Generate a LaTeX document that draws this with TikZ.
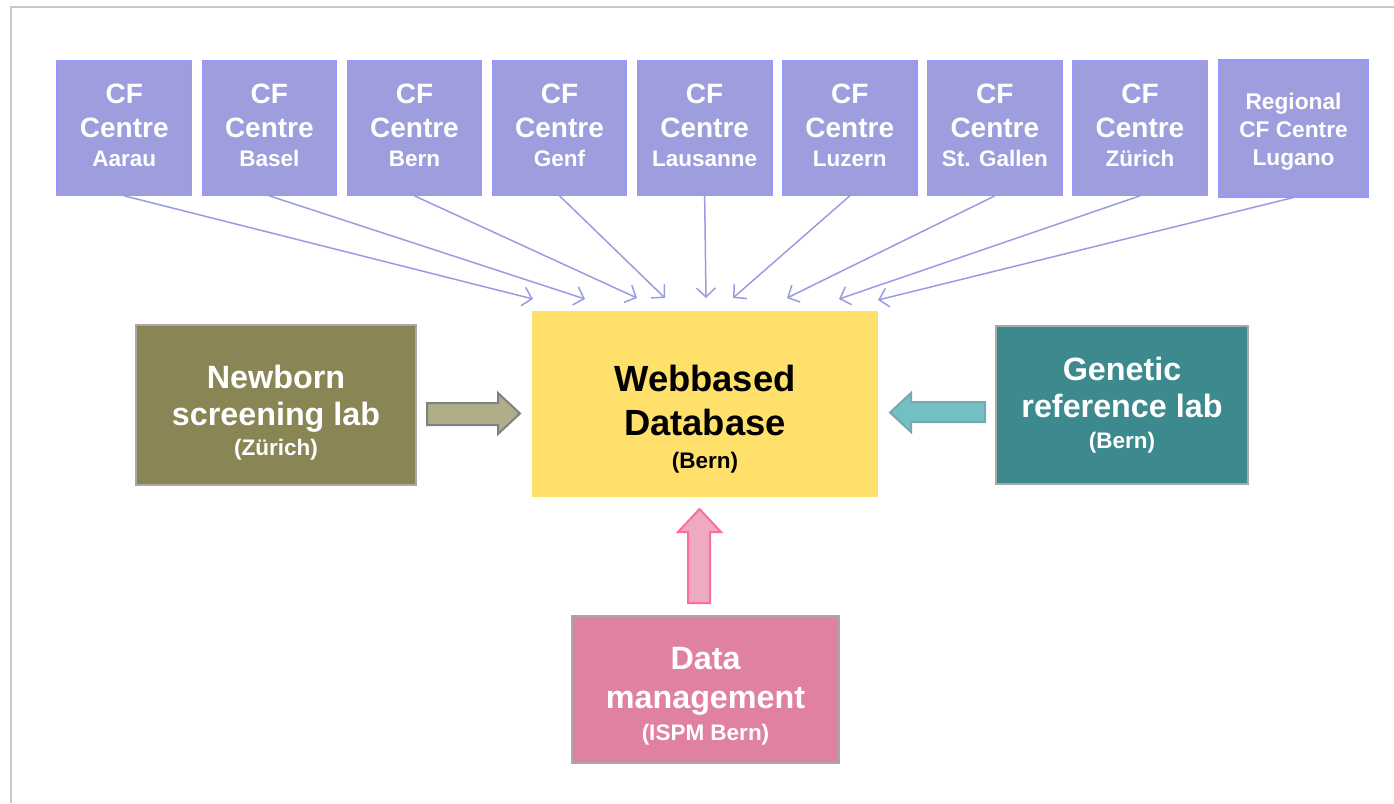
\documentclass[tikz,border=0pt]{standalone}
\usepackage{fontspec}
\setmainfont{Liberation Sans}
\usetikzlibrary{arrows.meta}
\definecolor{cfblue}{RGB}{158,158,222}
\definecolor{cfborder}{RGB}{150,150,255}
\definecolor{cfline}{RGB}{155,155,224}
\definecolor{dbyellow}{RGB}{255,224,106}
\definecolor{nbolive}{RGB}{137,133,85}
\definecolor{nbarrow}{RGB}{176,174,137}
\definecolor{genteal}{RGB}{61,138,142}
\definecolor{genarrow}{RGB}{114,191,196}
\definecolor{genarrowborder}{RGB}{120,168,172}
\definecolor{dmpink}{RGB}{224,128,162}
\definecolor{dmarrow}{RGB}{238,170,192}
\definecolor{dmarrowborder}{RGB}{255,110,150}
\definecolor{boxgray}{RGB}{168,168,168}
\definecolor{framegray}{RGB}{200,200,200}
\newcommand\fsCFbig{\fontsize{28}{30}\selectfont}
\newcommand\fsCFsmall{\fontsize{22.5}{24}\selectfont}
\newcommand\fsLug{\fontsize{22.7}{24}\selectfont}
\newcommand\fsLab{\fontsize{32.3}{34}\selectfont}
\newcommand\fsSub{\fontsize{22.5}{24}\selectfont}
\newcommand\fsDB{\fontsize{36.4}{38}\selectfont}
\tikzset{
  cfbox/.style={draw=cfborder, fill=cfblue, line width=1.2pt, minimum width=134.5, minimum height=134.5, inner sep=0},
  labbox/.style={draw=boxgray, line width=2pt, inner sep=0},
  wt/.style={text=white, anchor=base, inner sep=0},
  bt/.style={text=black, anchor=base, inner sep=0},
  cfarrow/.style={draw=cfline, line width=1.5pt, -{Straight Barb[length=9pt,width=19pt]}},
}
\begin{document}
\begin{tikzpicture}[x=1pt,y=-1pt]
\useasboundingbox (0,0) rectangle (1394,803);
\draw[framegray, line width=2pt] (11,803) -- (11,7) -- (1394,7);

% top row of CF centres
\foreach \i/\city in {0/Aarau,1/Basel,2/Bern,3/Genf,4/Lausanne,5/Luzern,6/St. Gallen,7/Zürich} {
  \pgfmathsetmacro\cx{124.25+\i*145.1}
  \node[cfbox] (cf\i) at (\cx,128) {};
  \node[wt, font=\bfseries\fsCFbig] (cfa\i) at (\cx,103) {CF};
  \node[wt, font=\bfseries\fsCFbig] (cfb\i) at (\cx,137) {Centre};
  \node[wt, font=\bfseries\fsCFsmall] (cfc\i) at (\cx,166) {\city};
}
\node[cfbox, minimum width=149, minimum height=137, line width=2pt] (cf8) at (1293.5,128) {};
\node[wt, font=\bfseries\fsLug] (cfa8) at (1293.5,109) {Regional};
\node[wt, font=\bfseries\fsLug] (cfb8) at (1293.5,137) {CF Centre};
\node[wt, font=\bfseries\fsLug] (cfc8) at (1293.5,165.5) {Lugano};

% arrow targets
\coordinate (t0) at (533,299);
\coordinate (t1) at (585,299);
\coordinate (t2) at (637,298);
\coordinate (t3) at (665,298);
\coordinate (t4) at (706,298);
\coordinate (t5) at (733,298);
\coordinate (t6) at (787,298);
\coordinate (t7) at (839,299);
\coordinate (t8) at (878,300);
\foreach \i in {0,...,8} {
  \draw[cfarrow] (cf\i.south) -- (t\i);
}

% central database
\node[fill=dbyellow, minimum width=346, minimum height=186, inner sep=0] (db) at (705,404) {};
\node[bt, font=\bfseries\fsDB] (dba) at (705,391) {Webbased};
\node[bt, font=\bfseries\fsDB] (dbb) at (705,435) {Database};
\node[bt, font=\bfseries\fsSub] (dbc) at (705,468) {(Bern)};

% newborn screening lab
\node[labbox, fill=nbolive, minimum width=280, minimum height=160] (nb) at (276,405) {};
\node[wt, font=\bfseries\fsLab] (nba) at (276,388) {Newborn};
\node[wt, font=\bfseries\fsLab] (nbb) at (276,425) {screening lab};
\node[wt, font=\bfseries\fsSub] (nbc) at (276,455) {(Zürich)};

% genetic reference lab
\node[labbox, fill=genteal, minimum width=252, minimum height=158] (gr) at (1122,405) {};
\node[wt, font=\bfseries\fsLab] (gra) at (1122,380) {Genetic};
\node[wt, font=\bfseries\fsLab] (grb) at (1122,417) {reference lab};
\node[wt, font=\bfseries\fsSub] (grc) at (1122,448) {(Bern)};

% data management
\node[labbox, fill=dmpink, minimum width=267, minimum height=147] (dm) at (705.5,689.5) {};
\node[wt, font=\bfseries\fsLab] (dma) at (705.5,669) {Data};
\node[wt, font=\bfseries\fsLab] (dmb) at (705.5,708) {management};
\node[wt, font=\bfseries\fsSub] (dmc) at (705.5,740) {(ISPM Bern)};

% block arrows
\draw[fill=nbarrow, draw=gray, line width=2pt, line join=miter]
  (427,403) -- (498,403) -- (498,393) -- (520,413.5) -- (498,434) -- (498,425) -- (427,425) -- cycle;
\draw[fill=genarrow, draw=genarrowborder, line width=2pt, line join=miter]
  (985,402) -- (911,402) -- (911,393) -- (890,412.5) -- (911,432) -- (911,422) -- (985,422) -- cycle;
\draw[fill=dmarrow, draw=dmarrowborder, line width=2pt, line join=miter]
  (688,603) -- (688,532) -- (678,532) -- (699.5,509) -- (721,532) -- (710,532) -- (710,603) -- cycle;
\end{tikzpicture}
\end{document}
